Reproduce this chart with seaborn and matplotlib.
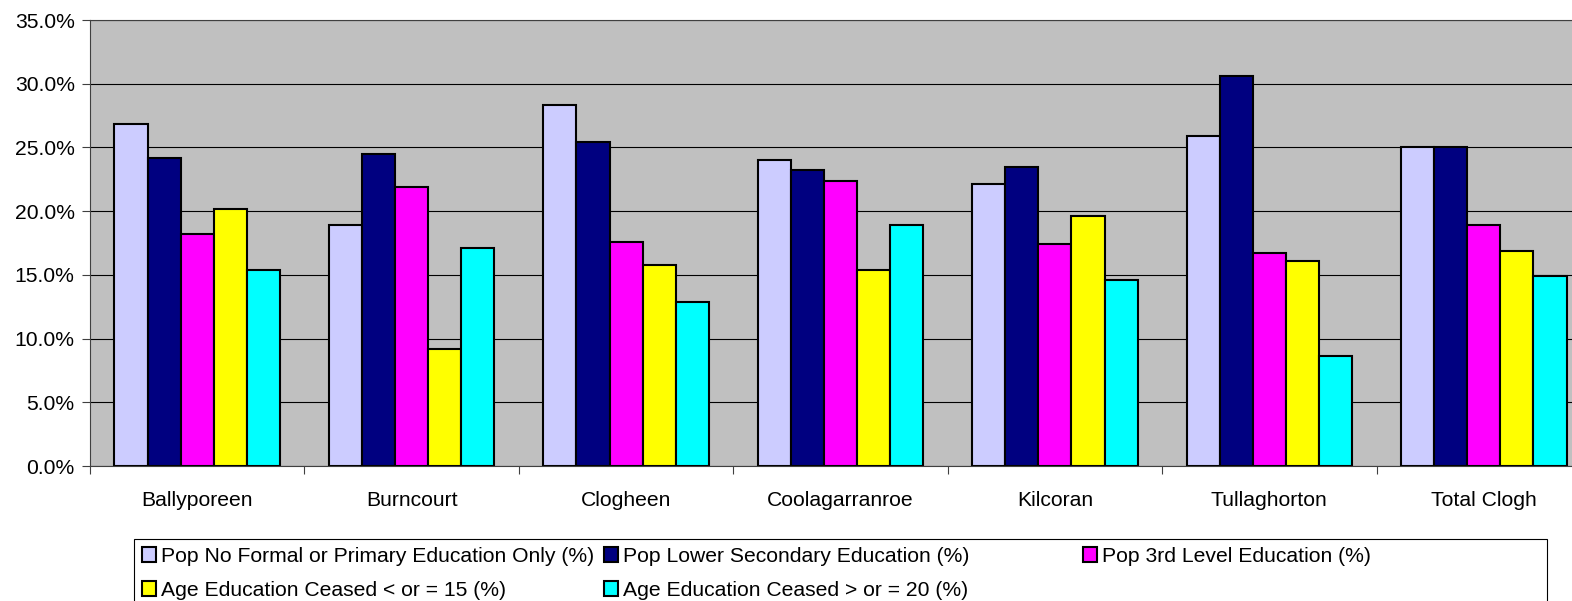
import matplotlib
matplotlib.use("Agg")
import matplotlib.pyplot as plt
from matplotlib.patches import Patch, Rectangle
from matplotlib.ticker import FuncFormatter, FixedLocator
import seaborn as sns
import pandas as pd

categories = ["Ballyporeen", "Burncourt", "Clogheen", "Coolagarranroe",
              "Kilcoran", "Tullaghorton", "Total Clogh"]
series_names = ["Pop No Formal or Primary Education Only (%)",
                "Pop Lower Secondary Education (%)",
                "Pop 3rd Level Education (%)",
                "Age Education Ceased < or = 15 (%)",
                "Age Education Ceased > or = 20 (%)"]
no_formal = [26.8, 18.9, 28.3, 24.0, 22.1, 25.9, 25.0]
lower_secondary = [24.2, 24.5, 25.4, 23.2, 23.5, 30.6, 25.0]
third_level = [18.2, 21.9, 17.6, 22.4, 17.4, 16.7, 18.9]
ceased_15 = [20.2, 9.2, 15.8, 15.4, 19.6, 16.1, 16.9]
ceased_20 = [15.4, 17.1, 12.9, 18.9, 14.6, 8.6, 14.9]
yticks = [0, 5, 10, 15, 20, 25, 30, 35]

colors = ["#CCCCFF", "#000080", "#FF00FF", "#FFFF00", "#00FFFF"]
all_series = [no_formal, lower_secondary, third_level, ceased_15, ceased_20]

rows = []
for name, vals in zip(series_names, all_series):
    for c, v in zip(categories, vals):
        rows.append({"Area": c, "Series": name, "Value": v})
df = pd.DataFrame(rows)

plt.rcParams['font.family'] = ['Liberation Sans', 'DejaVu Sans']
FS = 15.2
W, H = 1572, 601
fig = plt.figure(figsize=(W / 100, H / 100), dpi=100)
ax = fig.add_axes([90 / W, (H - 466) / H, (1591 - 90) / W, 446 / H])
ax.set_facecolor("#C0C0C0")
ax.set_axisbelow(True)

sns.barplot(data=df, x="Area", y="Value", hue="Series", order=categories,
            hue_order=series_names, palette=colors, width=0.772, gap=0,
            edgecolor="black", linewidth=1.5, saturation=1, errorbar=None,
            legend=False, ax=ax)

ax.set_ylim(0, 35)
ax.set_xlim(-0.5, len(categories) - 0.5)
ax.yaxis.set_major_locator(FixedLocator(yticks))
ax.yaxis.set_major_formatter(FuncFormatter(lambda v, p: f"{v:.1f}%"))
ax.grid(axis="y", color="black", linewidth=0.8)
ax.grid(axis="x", visible=False)
ax.set_xlabel("")
ax.set_ylabel("")
ax.tick_params(axis="y", labelsize=FS, length=6, width=0.8, color="#404040",
               pad=5, labelcolor="black")
ax.tick_params(axis="x", which="major", labelsize=FS, length=0, pad=18,
               labelcolor="black")
ax.set_xticks([i - 0.5 for i in range(len(categories) + 1)], minor=True)
ax.tick_params(axis="x", which="minor", length=6, width=0.8, color="#404040")
for s in ax.spines.values():
    s.set_color("#404040")
    s.set_linewidth(0.8)

# Legend: row-major layout in three columns
handles = [Patch(facecolor=c, edgecolor="black", linewidth=1.5) for c in colors]
cols = [([0, 3], 142), ([1, 4], 604), ([2], 1083)]
top_y = (H - 547) / H
for idxs, xpx in cols:
    fig.legend([handles[i] for i in idxs], [series_names[i] for i in idxs],
               loc="upper left", bbox_to_anchor=(xpx / W, top_y),
               bbox_transform=fig.transFigure, frameon=False,
               fontsize=FS, borderpad=0, borderaxespad=0,
               handlelength=0.67, handleheight=0.67, handletextpad=0.24,
               labelspacing=0.7)
fig.add_artist(Rectangle((134 / W, -0.05), (1547 - 134) / W, (H - 539) / H + 0.05,
                         transform=fig.transFigure, facecolor="none",
                         edgecolor="black", linewidth=0.8, clip_on=False))

fig.savefig("out.png", dpi=100)
